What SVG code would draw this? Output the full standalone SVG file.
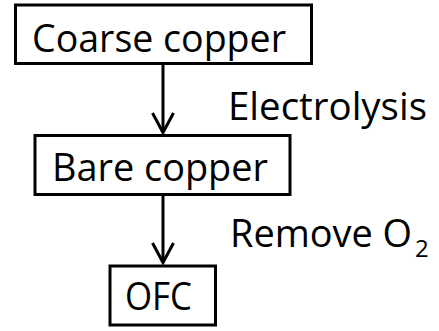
<svg xmlns="http://www.w3.org/2000/svg" width="439" height="331" viewBox="0 0 439 331">
<style>
.box rect{fill:#fff;stroke:#000;stroke-width:3}
text{font-family:"Open Sans","Noto Sans",sans-serif;font-size:39px;fill:#000}
text.sub{font-size:24px}
.conn line,.conn polyline{stroke:#000;stroke-width:3;fill:none}
</style>
<rect width="439" height="331" fill="#fff"/>
<g class="conn" id="connectors">
<line x1="163" y1="64" x2="163" y2="132"/>
<polyline points="152.5,113 163,132.5 173.5,113"/>
<line x1="163" y1="195" x2="163" y2="263"/>
<polyline points="152.5,243 163,262.5 173.5,243"/>
</g>
<g class="box" id="coarse">
<rect x="15.5" y="5" width="296" height="58.5"/>
<text x="32" y="52" textLength="254" lengthAdjust="spacingAndGlyphs">Coarse copper</text>
</g>
<g class="box" id="bare">
<rect x="35" y="135.5" width="255" height="59"/>
<text x="52" y="181" textLength="216" lengthAdjust="spacingAndGlyphs">Bare copper</text>
</g>
<g class="box" id="ofc">
<rect x="110" y="266" width="105.5" height="59"/>
<text x="125" y="310" textLength="67" lengthAdjust="spacingAndGlyphs">OFC</text>
</g>
<g id="labels">
<text x="230" y="247" textLength="182" lengthAdjust="spacingAndGlyphs">Remove O</text>
<text class="sub" x="415" y="257">2</text>
<text x="228" y="120" textLength="199" lengthAdjust="spacingAndGlyphs">Electrolysis</text>
</g>
</svg>
